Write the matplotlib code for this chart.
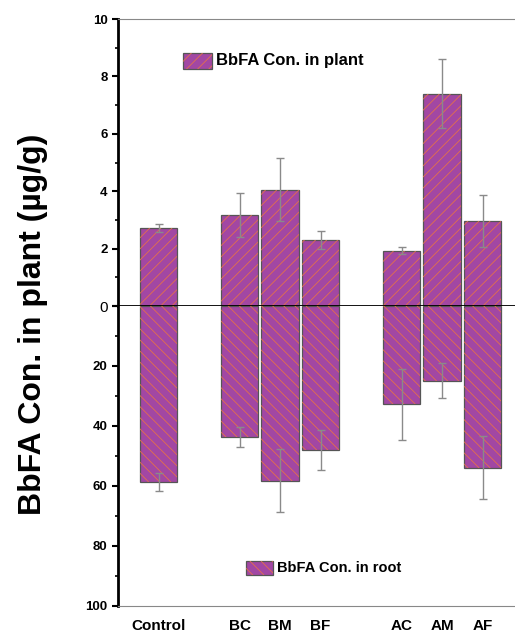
import matplotlib
matplotlib.use('Agg')
from matplotlib import pyplot as plt
from matplotlib.patches import Rectangle

plt.rcParams['font.family'] = ['Liberation Sans', 'DejaVu Sans']
plt.rcParams['hatch.linewidth'] = 0.6

groups = ['Control', 'BC', 'BM', 'BF', 'AC', 'AM', 'AF']
xpos = [0, 2, 3, 4, 6, 7, 8]

plant = [2.72, 3.17, 4.05, 2.30, 1.93, 7.40, 2.95]
plant_err = [0.14, 0.77, 1.10, 0.31, 0.12, 1.20, 0.91]

root = [58.7, 43.6, 58.3, 48.0, 32.8, 24.9, 53.9]
root_err = [3.0, 3.4, 10.5, 6.6, 11.9, 5.8, 10.5]

face = '#a247a3'
hatch_col = '#e4704a'
edge = '#555555'
W, H = 515, 637

fig = plt.figure(figsize=(W / 100, H / 100), dpi=100)
left = 118 / W
width = 1 - left
ax1 = fig.add_axes([left, (H - 306) / H, width, 287 / H])
ax2 = fig.add_axes([left, (H - 606) / H, width, 300 / H])

bw = 0.92


def draw(ax, vals, errs, hatch):
    ax.bar(xpos, vals, bw, color=face, edgecolor=edge, linewidth=0.9, zorder=2)
    ax.bar(xpos, vals, bw, color='none', edgecolor=hatch_col, linewidth=0,
           hatch=hatch, zorder=3)
    ax.errorbar(xpos, vals, yerr=errs, fmt='none', ecolor='#8a8a8a',
                elinewidth=1.0, capsize=3, capthick=1.0, zorder=4)


draw(ax1, plant, plant_err, '///')
draw(ax2, root, root_err, '\\\\\\')

for ax in (ax1, ax2):
    ax.set_xlim(-1, 8.8)
    ax.spines['right'].set_visible(False)
    ax.spines['left'].set_linewidth(2)
    ax.tick_params(axis='y', which='major', direction='out', length=4, width=1.5,
                   labelsize=9.5)
    ax.tick_params(axis='y', which='minor', direction='out', length=2.5, width=1.2)

ax1.set_ylim(0, 10)
ax1.set_yticks([0, 2, 4, 6, 8, 10])
ax1.set_yticklabels(['0', '2', '4', '6', '8', '10'], fontweight='bold')
ax1.set_yticks([1, 3, 5, 7, 9], minor=True)
ax1.get_yticklabels()[0].set_fontweight('normal')
ax1.get_yticklabels()[0].set_fontsize(11)
ax1.set_xticks([])
ax1.spines['top'].set_color('#888888')
ax1.spines['bottom'].set_color('black')
ax1.spines['bottom'].set_linewidth(1.3)
ax1.spines['bottom'].set_zorder(5)

ax2.set_ylim(100, 0)
ax2.set_yticks([0, 20, 40, 60, 80, 100])
ax2.set_yticklabels(['', '20', '40', '60', '80', '100'], fontweight='bold')
ax2.set_yticks([10, 30, 50, 70, 90], minor=True)
ax2.spines['top'].set_visible(False)
ax2.spines['bottom'].set_color('#888888')
ax2.set_xticks(xpos)
ax2.set_xticklabels(groups, fontweight='bold', fontsize=11)
ax2.tick_params(axis='x', length=0, pad=9)


# legend keys drawn in figure pixels
def key(x, y, w, h, hatch, label, size):
    fig.patches.append(Rectangle((x / W, 1 - (y + h) / H), w / W, h / H,
                                 transform=fig.transFigure, facecolor=face,
                                 edgecolor=edge, linewidth=0.9))
    fig.patches.append(Rectangle((x / W, 1 - (y + h) / H), w / W, h / H,
                                 transform=fig.transFigure, facecolor='none',
                                 edgecolor=hatch_col, linewidth=0, hatch=hatch))
    fig.text((x + w + 4) / W, 1 - (y + h / 2) / H, label, ha='left',
             va='center', fontsize=size, fontweight='bold')


key(183, 53, 29, 16, '///', 'BbFA Con. in plant', 12)
key(246, 561, 27, 14, '\\\\\\', 'BbFA Con. in root', 10.5)

fig.text(33 / W, 1 - 324 / H, 'BbFA Con. in plant (µg/g)', rotation=90,
         ha='center', va='center', fontsize=23, fontweight='bold')

fig.savefig('out.png', dpi=100)
